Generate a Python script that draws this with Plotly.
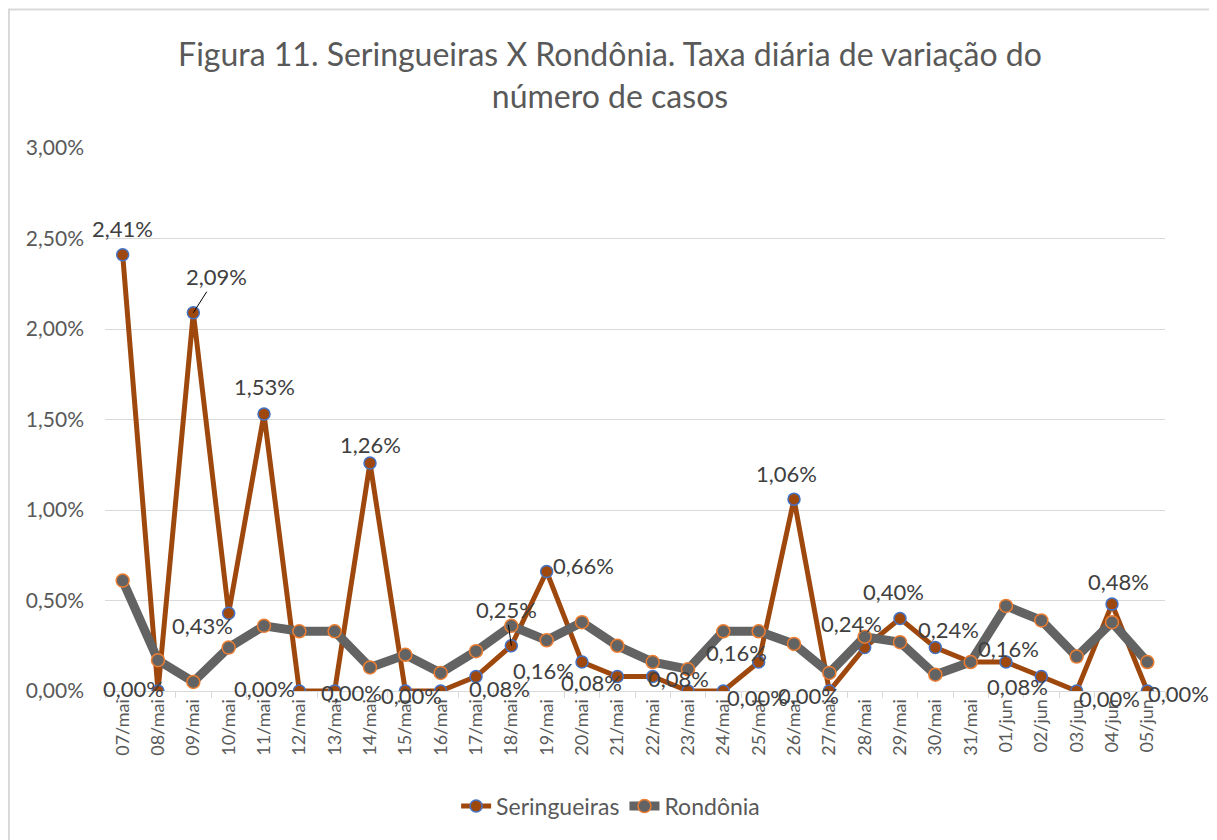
import plotly.graph_objects as go

# dados
datas = ["07/mai", "08/mai", "09/mai", "10/mai", "11/mai", "12/mai", "13/mai", "14/mai",
         "15/mai", "16/mai", "17/mai", "18/mai", "19/mai", "20/mai", "21/mai", "22/mai",
         "23/mai", "24/mai", "25/mai", "26/mai", "27/mai", "28/mai", "29/mai", "30/mai",
         "31/mai", "01/jun", "02/jun", "03/jun", "04/jun", "05/jun"]

seringueiras = [0.0241, 0.0000, 0.0209, 0.0043, 0.0153, 0.0000, 0.0000, 0.0126,
                0.0000, 0.0000, 0.0008, 0.0025, 0.0066, 0.0016, 0.0008, 0.0008,
                0.0000, 0.0000, 0.0016, 0.0106, 0.0000, 0.0024, 0.0040, 0.0024,
                0.0016, 0.0016, 0.0008, 0.0000, 0.0048, 0.0000]

rondonia = [0.0061, 0.0017, 0.0005, 0.0024, 0.0036, 0.0033, 0.0033, 0.0013,
            0.0020, 0.0010, 0.0022, 0.0036, 0.0028, 0.0038, 0.0025, 0.0016,
            0.0012, 0.0033, 0.0033, 0.0026, 0.0010, 0.0030, 0.0027, 0.0009,
            0.0016, 0.0047, 0.0039, 0.0019, 0.0038, 0.0016]

# posicao dos rotulos (deslocamento em px), None = sem rotulo
rotulos = [(0, 26), (-25, 3), None, (-26, -12), (0, 28), (-35, 3), (17, -1), (0, 18),
           (6, -4), None, (23, -12), None, (37, 6), (-39, -8), (-26, -6), (26, -2),
           None, (34, -6), (-22, 10), (-8, 26), (-21, -4), (-13, 24), (-7, 27), (13, 18),
           None, (2, 14), (-24, -10), (33, -7), (6, 23), (31, -2)]
# rotulos com linha de chamada: indice -> (ax, ay)
chamadas = {2: (23, -36), 11: (-5, -36)}

FONTE = "Lato"
CINZA_TXT = "#595959"


def pct(v):
    return f"{v * 100:.2f}%".replace(".", ",")


fig = go.Figure()

fig.add_trace(go.Scatter(
    x=datas, y=seringueiras, name="Seringueiras", mode="lines+markers",
    line=dict(color="#9E480E", width=5),
    marker=dict(size=12, color="#9E480E", line=dict(color="#4472C4", width=1.5)),
))
fig.add_trace(go.Scatter(
    x=datas, y=rondonia, name="Rondônia", mode="lines+markers",
    line=dict(color="#636363", width=9),
    marker=dict(size=13, color="#636363", line=dict(color="#ED7D31", width=1.5)),
))

for i, (d, v) in enumerate(zip(datas, seringueiras)):
    if i in chamadas:
        ax, ay = chamadas[i]
        fig.add_annotation(x=d, y=v, text=pct(v), showarrow=True, arrowhead=0,
                           arrowwidth=1, arrowcolor="black", ax=ax, ay=ay, standoff=0,
                           font=dict(family=FONTE, size=22, color="#404040"))
    elif rotulos[i] is not None:
        dx, dy = rotulos[i]
        fig.add_annotation(x=d, y=v, text=pct(v), showarrow=False,
                           xshift=dx, yshift=dy,
                           font=dict(family=FONTE, size=22, color="#404040"))

# tamanho da figura (a pagina tem 8px de margem)
W, H = 1209, 832
ml, mt = 97, 140
pw, ph = 1060, 543
mr, mb = W - ml - pw, H - mt - ph

# moldura externa
fig.add_shape(type="rect", xref="paper", yref="paper",
              x0=(1 - ml) / pw, x1=(1207.5 - ml) / pw,
              y0=-(mb + 2) / ph, y1=1 + (mt - 1.5) / ph,
              line=dict(color="#D9D9D9", width=2), layer="below")

fig.update_layout(
    width=W, height=H,
    margin=dict(l=ml, r=mr, t=mt, b=mb),
    paper_bgcolor="white", plot_bgcolor="white",
    separators=",.",
    font=dict(family=FONTE, color=CINZA_TXT),
    title=dict(text="Figura 11. Seringueiras X Rondônia. Taxa diária de variação do<br>número de casos",
               x=602 / W, xref="container", xanchor="center", y=1 - 58 / H, yanchor="top",
               font=dict(family=FONTE, size=32, color=CINZA_TXT)),
    showlegend=True,
    legend=dict(orientation="h", x=0.477, xanchor="center", y=-0.212, yanchor="middle",
                font=dict(family=FONTE, size=23, color=CINZA_TXT)),
    xaxis=dict(type="category", range=[-0.5, 29.5], tickangle=-90,
               tickfont=dict(family=FONTE, size=18, color=CINZA_TXT),
               showgrid=False, showline=True, linecolor="#D9D9D9", linewidth=1,
               ticks="outside", tickson="boundaries", ticklen=6, tickcolor="#D9D9D9"),
    yaxis=dict(range=[0, 0.03], dtick=0.005, tickformat=".2%",
               tickfont=dict(family=FONTE, size=21, color=CINZA_TXT),
               showgrid=True, gridcolor="#D9D9D9", gridwidth=1, zeroline=False,
               ticks="", ticklabelstandoff=20),
)

fig.write_html("out.html")
